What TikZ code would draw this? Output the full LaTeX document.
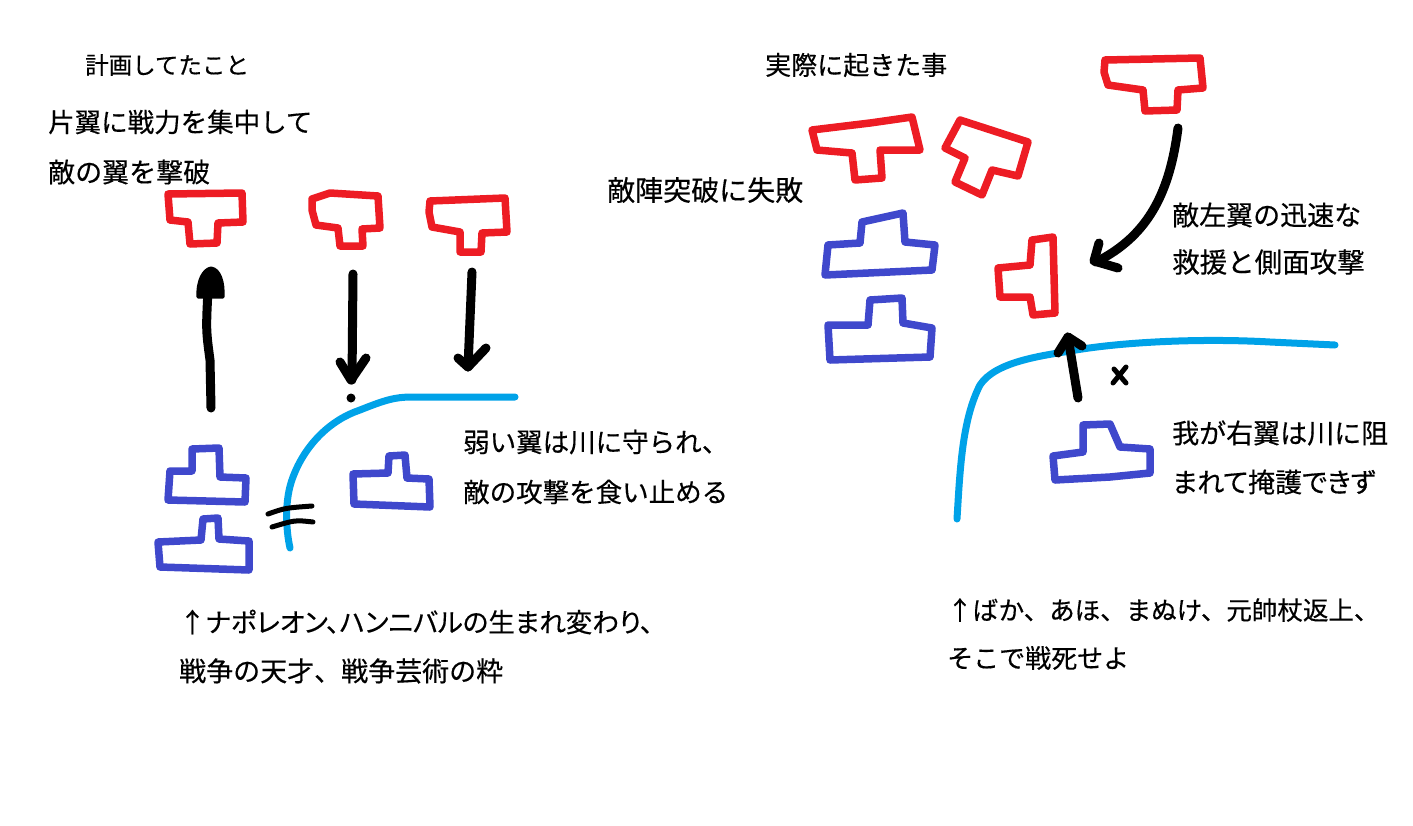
\documentclass[tikz,border=0pt]{standalone}
\usepackage{fontspec}
\setmainfont{Noto Sans CJK JP}[FakeBold=0.4,AutoFakeBold=0.4]
\newfontfamily\propfont{Noto Sans CJK JP}[RawFeature=+palt,FakeBold=0.4]
\definecolor{tred}{RGB}{237,28,36}
\definecolor{tblue}{RGB}{63,72,204}
\definecolor{triver}{RGB}{0,162,232}
\tikzset{
  enemy/.style={draw=tred,line width=7.5pt,line join=round},
  ours/.style={draw=tblue,line width=7.5pt,line join=round},
  river/.style={draw=triver,line width=7pt,line cap=round,line join=round},
  move/.style={draw=black,line width=9pt,line cap=round,line join=round},
  slash/.style={draw=black,line width=5pt,line cap=round},
  lbl/.style={anchor=west,inner sep=0pt,font=\fontsize{27}{30}\selectfont},
}
\begin{document}
\begin{tikzpicture}[x=1pt,y=-1pt]
\useasboundingbox (0,0) rectangle (1413,825);
% ---------- left: plan ----------
\node[lbl,font=\fontsize{23.5}{28}\selectfont] (t1) at (85,65) {計画してたこと};
\node[lbl,font=\fontsize{26.5}{30}\selectfont] (t2) at (48,122) {片翼に戦力を集中して};
\node[lbl] (t3) at (48,172) {敵の翼を撃破};
% enemy
\draw[enemy] (168,194) -- (242,193) -- (243,222) -- (218,223) -- (217,243) -- (190,244) -- (188,222) -- (170,220) -- cycle;
\draw[enemy] (312,199) -- (330,193) -- (378,196) -- (380,228) -- (362,229) -- (363,246) -- (340,246) -- (338,228) -- (316,225) -- (312,210) -- cycle;
\draw[enemy] (430,201) -- (505,198) -- (507,232) -- (482,233) -- (481,252) -- (460,252) -- (460,232) -- (432,227) -- (429,212) -- cycle;
% arrows
\draw[move] (211,408) -- (210,360) .. controls (206,330) .. (208,290);
\fill[black,draw=black,line width=3pt,line join=round] (198,297) .. controls (197,280) and (204,269) .. (211,268) .. controls (220,269) and (224,283) .. (223,297) -- cycle;
\draw[move] (353,274) -- (352,380);
\draw[move] (340,362) -- (351,380) -- (366,358);
\fill (351,398) circle (4.5pt);
\draw[move] (472,272) -- (468,367);
\draw[move] (458,358) -- (468,367) -- (486,348);
% river
\draw[river] (290,548) .. controls (286,530) and (284,500) .. (293,477) .. controls (305,445) and (330,420) .. (360,410) .. controls (385,400) and (395,397) .. (412,397) -- (515,397);
\draw[slash] (268,514) .. controls (285,508) .. (312,506);
\draw[slash] (272,527) .. controls (295,520) .. (313,522);
% ours
\draw[ours] (192,449) -- (219,448) -- (220,477) -- (246,478) -- (245,502) -- (168,500) -- (170,471) -- (192,471) -- cycle;
\draw[ours] (203,519) -- (218,518) -- (219,539) -- (249,541) -- (249,570) -- (160,567) -- (158,542) -- (201,540) -- cycle;
\draw[ours] (389,456) -- (405,455) -- (407,478) -- (429,479) -- (430,507) -- (354,504) -- (353,474) -- (388,473) -- cycle;
\node[lbl,font=\fontsize{26.5}{30}\selectfont] (t4) at (463,442) {弱い翼は川に守られ、};
\node[lbl,font=\fontsize{26.5}{30}\selectfont] (t5) at (463,492) {敵の攻撃を食い止める};
\node[lbl,font=\fontsize{26.5}{30}\propfont] (t6) at (179,622) {↑ナポレオン、ハンニバルの生まれ変わり、};
\node[lbl] (t7) at (179,671) {戦争の天才、戦争芸術の粋};
% ---------- right: what happened ----------
\node[lbl,font=\fontsize{26}{30}\selectfont] (t8) at (765,65) {実際に起きた事};
\node[lbl,font=\fontsize{28}{30}\selectfont] (t9) at (607,190) {敵陣突破に失敗};
\draw[enemy] (812,130) -- (870,123) -- (912,117) -- (920,150) -- (880,150) -- (882,178) -- (855,180) -- (852,153) -- (817,150) -- cycle;
\draw[enemy] (960,120) -- (1028,142) -- (1018,176) -- (992,170) -- (982,195) -- (955,182) -- (965,158) -- (945,148) -- cycle;
\draw[enemy] (1105,60) -- (1200,58) -- (1203,88) -- (1178,90) -- (1177,110) -- (1145,111) -- (1143,90) -- (1108,85) -- (1104,72) -- cycle;
\draw[enemy] (1032,240) -- (1053,237) -- (1055,313) -- (1033,315) -- (1030,297) -- (1000,297) -- (998,268) -- (1030,265) -- cycle;
\draw[ours] (862,222) -- (903,213) -- (905,242) -- (935,245) -- (932,270) -- (890,272) -- (825,275) -- (828,245) -- (860,243) -- cycle;
\draw[ours] (870,300) -- (902,298) -- (903,323) -- (932,328) -- (930,357) -- (830,360) -- (828,325) -- (868,325) -- cycle;
\draw[move] (1178,128) .. controls (1170,190) and (1150,235) .. (1096,262);
\draw[move] (1099,243) -- (1094,261) -- (1118,268);
\node[lbl] (t10) at (1172,215) {敵左翼の迅速な};
\node[lbl,font=\fontsize{27.5}{30}\selectfont] (t11) at (1172,262) {救援と側面攻撃};
\draw[river] (957,519) .. controls (960,470) and (962,420) .. (980,385) .. controls (995,362) and (1040,356) .. (1070,351) .. controls (1120,342) and (1200,338) .. (1270,342) -- (1335,345);
\draw[move] (1078,398) -- (1068,337);
\draw[move] (1058,353) -- (1068,337) -- (1082,346);
\draw[slash] (1114,369) -- (1126,383);
\draw[slash] (1126,367) -- (1113,383);
\draw[ours] (1083,425) -- (1110,424) -- (1120,447) -- (1150,449) -- (1150,473) -- (1110,477) -- (1055,480) -- (1053,456) -- (1083,452) -- cycle;
\node[lbl] (t12) at (1172,433) {我が右翼は川に阻};
\node[lbl,font=\fontsize{27}{30}\propfont] (t13) at (1172,482) {まれて掩護できず};
\node[lbl,font=\fontsize{25.5}{30}\selectfont] (t14) at (947,610) {↑ばか、あほ、まぬけ、元帥杖返上、};
\node[lbl,font=\fontsize{26}{30}\selectfont] (t15) at (947,658) {そこで戦死せよ};
\end{tikzpicture}
\end{document}
